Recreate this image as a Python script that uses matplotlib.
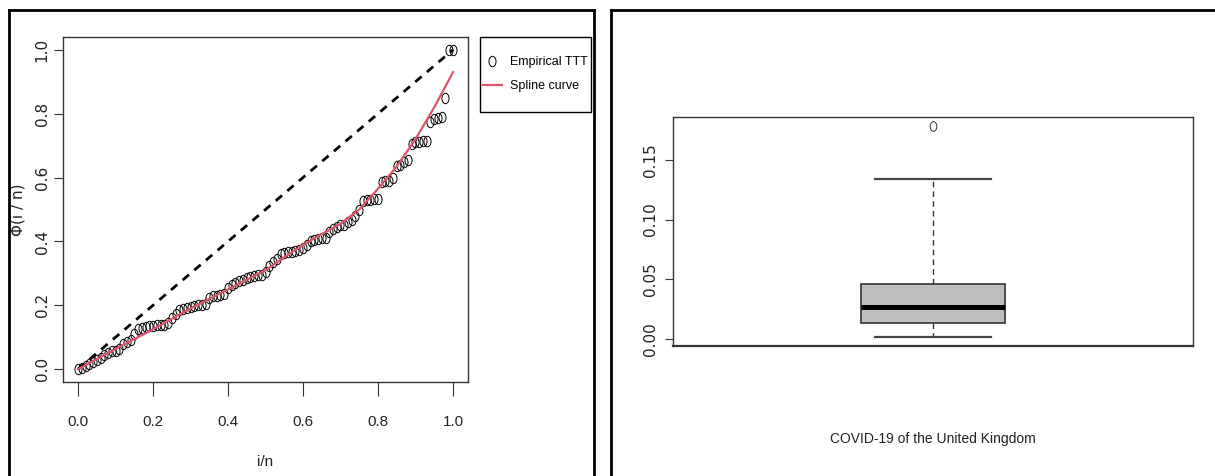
import matplotlib
matplotlib.use('Agg')
import matplotlib.pyplot as plt
from matplotlib.lines import Line2D
from matplotlib.patches import Rectangle
from matplotlib.path import Path
from matplotlib.transforms import Affine2D

# ---- left panel: TTT plot ----
ttt_x = [0.00, 0.01, 0.02, 0.03, 0.04, 0.05, 0.06, 0.07, 0.08, 0.09,
         0.10, 0.11, 0.12, 0.13, 0.14, 0.15, 0.16, 0.17, 0.18, 0.19,
         0.20, 0.21, 0.22, 0.23, 0.24, 0.25, 0.26, 0.27, 0.28, 0.29,
         0.30, 0.31, 0.32, 0.33, 0.34, 0.35, 0.36, 0.37, 0.38, 0.39,
         0.40, 0.41, 0.42, 0.43, 0.44, 0.45, 0.46, 0.47, 0.48, 0.49,
         0.50, 0.51, 0.52, 0.53, 0.54, 0.55, 0.56, 0.57, 0.58, 0.59,
         0.60, 0.61, 0.62, 0.63, 0.64, 0.65, 0.66, 0.67, 0.68, 0.69,
         0.70, 0.71, 0.72, 0.73, 0.74, 0.75, 0.76, 0.77, 0.78, 0.79,
         0.80, 0.81, 0.82, 0.83, 0.84, 0.85, 0.86, 0.87, 0.88, 0.89,
         0.90, 0.91, 0.92, 0.93, 0.94, 0.95, 0.96, 0.97, 0.98, 0.99, 1.00]
ttt_y = [0.000, 0.005, 0.010, 0.015, 0.022, 0.028, 0.035, 0.045, 0.052, 0.056,
         0.058, 0.062, 0.078, 0.085, 0.090, 0.110, 0.125, 0.128, 0.132, 0.135,
         0.136, 0.138, 0.138, 0.140, 0.145, 0.160, 0.172, 0.185, 0.190, 0.193,
         0.196, 0.198, 0.200, 0.202, 0.205, 0.222, 0.228, 0.230, 0.232, 0.235,
         0.255, 0.265, 0.270, 0.275, 0.280, 0.285, 0.290, 0.292, 0.294, 0.296,
         0.305, 0.322, 0.335, 0.345, 0.360, 0.365, 0.366, 0.368, 0.370, 0.372,
         0.380, 0.390, 0.400, 0.405, 0.408, 0.410, 0.412, 0.430, 0.440, 0.446,
         0.450, 0.452, 0.462, 0.468, 0.480, 0.500, 0.528, 0.530, 0.531, 0.532,
         0.534, 0.585, 0.588, 0.590, 0.600, 0.635, 0.640, 0.648, 0.655, 0.705,
         0.710, 0.712, 0.714, 0.716, 0.775, 0.782, 0.786, 0.790, 0.850, 0.998, 1.000]

spline_x = [0.0, 0.1, 0.2, 0.3, 0.4, 0.5, 0.6, 0.7, 0.75, 0.8, 0.85, 0.9, 0.95, 1.0]
spline_y = [0.0, 0.063, 0.125, 0.19, 0.25, 0.31, 0.39, 0.455, 0.50, 0.565, 0.635, 0.72, 0.82, 0.93]

diag_x = [0.0, 1.0]
diag_y = [0.0, 1.0]

ttt_ticks = [0.0, 0.2, 0.4, 0.6, 0.8, 1.0]
ttt_ticklabels = ['0.0', '0.2', '0.4', '0.6', '0.8', '1.0']

# ---- right panel: boxplot ----
box_med = 0.0268
box_q1 = 0.0134
box_q3 = 0.046
box_lo = 0.0017
box_hi = 0.134
box_out = [0.1785]
box_ticks = [0.00, 0.05, 0.10, 0.15]
box_ticklabels = ['0.00', '0.05', '0.10', '0.15']

narrow = ['Liberation Sans', 'DejaVu Sans']
W, H = 1215, 476

def fx(px):
    return px / W

def fy(py):
    return 1 - py / H

# tall ellipse marker (picture is stretched vertically)
ell = Path.unit_circle().transformed(Affine2D().scale(0.68, 1.0))

fig = plt.figure(figsize=(12.15, 4.76), dpi=100)

# panel frames
for xs, ys in [([9, 9], [10, 480]), ([9, 594], [10, 10]), ([594, 594], [10, 480]),
               ([611, 611], [10, 480]), ([611, 1215], [10, 10])]:
    fig.add_artist(Line2D([fx(v) for v in xs], [fy(v) for v in ys],
                          transform=fig.transFigure, color='black', lw=2))

ax1 = fig.add_axes([fx(63), fy(382), fx(405), 345 / H])
ax1.plot(diag_x, diag_y, color='black', lw=2, ls=(0, (3, 2.5)))
ax1.plot(ttt_x, ttt_y, ls='none', marker=ell, ms=7.5, mfc='none', mec='black',
         mew=0.7, label='Empirical TTT')
ax1.plot(spline_x, spline_y, color='#DF536B', lw=1.6, label='Spline curve')
ax1.set_xlim(-0.04, 1.04)
ax1.set_ylim(-0.04, 1.04)
ax1.set_xticks(ttt_ticks)
ax1.set_xticklabels(ttt_ticklabels, family=narrow, fontsize=11, color='#222222')
ax1.set_yticks(ttt_ticks)
ax1.set_yticklabels(ttt_ticklabels, family='DejaVu Sans', fontsize=11,
                    color='#222222', rotation=90, va='center')
ax1.tick_params(axis='x', length=10, pad=14, width=0.8, color='#333333')
ax1.tick_params(axis='y', length=6.5, pad=3, width=0.8, color='#333333')
for s in ax1.spines.values():
    s.set_color('#333333')
    s.set_linewidth(1.0)
ax1.set_xlabel('i/n', family=narrow, fontsize=11, color='#222222')
ax1.xaxis.label.set_va('center')
ax1.xaxis.set_label_coords(0.5, -0.232)
ax1.set_ylabel('\u03a6(i / n)', family='DejaVu Sans', fontsize=11, color='#222222')
ax1.yaxis.label.set_va('center')
ax1.yaxis.set_label_coords(-0.11, 0.5)

# legend box (R style, outside the plot region)
fig.add_artist(Rectangle((fx(480), fy(112)), fx(111), 75 / H, transform=fig.transFigure,
                         fill=False, edgecolor='black', lw=1.0))
leg = ax1.legend(loc='upper left', bbox_to_anchor=(fx(483), fy(56)),
                 bbox_transform=fig.transFigure, borderaxespad=0, borderpad=0,
                 frameon=False, prop={'family': narrow, 'size': 9},
                 handlelength=1.5, handletextpad=0.7, labelspacing=0.95)

ax2 = fig.add_axes([fx(673), fy(346), fx(520), 229 / H])
stats = [dict(med=box_med, q1=box_q1, q3=box_q3, whislo=box_lo, whishi=box_hi,
              fliers=box_out)]
ax2.bxp(stats, positions=[1], widths=0.277, capwidths=0.223, patch_artist=True,
        boxprops=dict(facecolor='#BEBEBE', edgecolor='#333333', lw=1.2),
        medianprops=dict(color='black', lw=3.6),
        whiskerprops=dict(color='#333333', lw=1.0, ls=(0, (4, 3))),
        capprops=dict(color='#444444', lw=1.6),
        flierprops=dict(marker=ell, ms=7, mfc='none', mec='#333333', mew=0.7))
ax2.set_xlim(0.5, 1.5)
ax2.set_ylim(-0.006, 0.186)
ax2.set_xticks([])
ax2.set_yticks(box_ticks)
ax2.set_yticklabels(box_ticklabels, family='DejaVu Sans', fontsize=11,
                    color='#222222', rotation=90, va='center')
ax2.tick_params(axis='y', length=6, pad=5, width=0.8, color='#333333')
for s in ax2.spines.values():
    s.set_color('#333333')
    s.set_linewidth(1.0)
ax2.spines['bottom'].set_linewidth(1.6)
ax2.set_xlabel('COVID-19 of the United Kingdom', family=narrow, fontsize=10,
               color='#222222')
ax2.xaxis.label.set_va('center')
ax2.xaxis.set_label_coords(0.5, -0.406)

fig.savefig('out.png', dpi=100)
